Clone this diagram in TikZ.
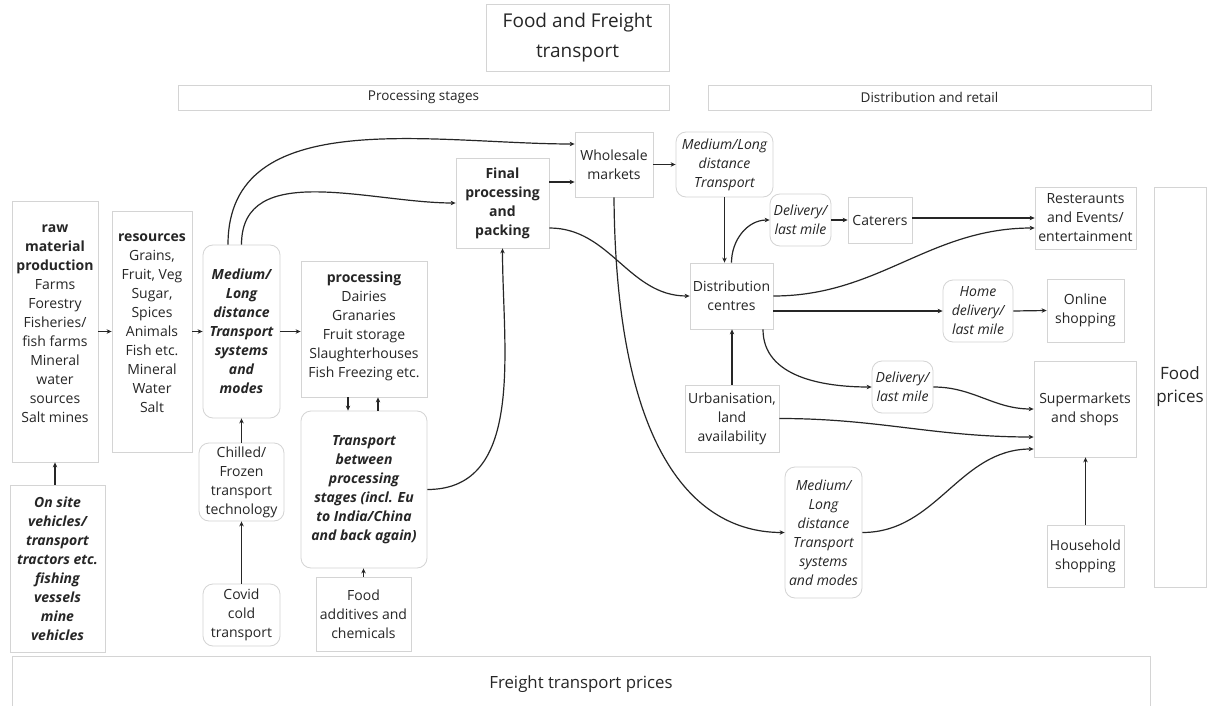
\documentclass[tikz,border=0pt]{standalone}
\usepackage{fontspec}
\setmainfont{Open Sans}
\usetikzlibrary{arrows.meta,calc}
\definecolor{boxline}{HTML}{D4D4D4}
\definecolor{ink}{HTML}{262626}
\tikzset{
  box/.style={draw=boxline, line width=0.8pt, align=center, inner sep=0pt, text=ink, font=\fontsize{14}{19}\selectfont},
  rbox/.style={box, rounded corners=10pt},
  conn/.style={draw=ink, line width=1.2pt, -{Stealth[length=5pt,width=4.5pt]}},
}
\begin{document}
\begin{tikzpicture}[x=1pt,y=1pt]
\useasboundingbox[fill=white] (0,0) rectangle (1208,-706);
% headers
\node[box, minimum width=183, minimum height=67, font=\fontsize{19}{30}\selectfont] (title) at (577.5,-37.5) {Food and Freight\\transport};
\node[box, minimum width=491, minimum height=25, font=\fontsize{13.5}{16}\selectfont] (prochead) at (423.5,-97.5) {Processing stages};
\node[box, minimum width=443, minimum height=25, font=\fontsize{13.5}{16}\selectfont] (disthead) at (929.5,-97.5) {Distribution and retail};
% left column
\node[box, minimum width=86, minimum height=261] (raw) at (55,-331.5) {\textbf{raw}\\\textbf{material}\\\textbf{production}\\Farms\\Forestry\\Fisheries/\\fish farms\\Mineral\\water\\sources\\Salt mines\\[-3pt]\mbox{}};
\node[box, minimum width=80, minimum height=241] (res) at (152,-331.5) {\textbf{resources}\\Grains,\\Fruit, Veg\\Sugar,\\Spices\\Animals\\Fish etc.\\Mineral\\Water\\Salt\\[-3pt]\mbox{}};
\node[rbox, minimum width=77, minimum height=173, font=\fontsize{14}{19}\selectfont\bfseries\itshape] (med1) at (241.5,-331.5) {Medium/\\Long\\distance\\Transport\\systems\\and\\modes};
\node[rbox, minimum width=85, minimum height=78] (chilled) at (241.5,-482) {Chilled/\\Frozen\\transport\\technology};
\node[rbox, minimum width=77, minimum height=62] (covid) at (241.5,-615) {Covid\\cold\\transport};
\node[box, minimum width=95, minimum height=167, font=\fontsize{14}{19}\selectfont\bfseries\itshape] (onsite) at (57.5,-568.5) {On site\\vehicles/\\transport\\tractors etc.\\fishing\\vessels\\mine\\vehicles};
% processing column
\node[box, minimum width=126, minimum height=136] (processing) at (364,-329) {\textbf{processing}\\Dairies\\Granaries\\Fruit storage\\Slaughterhouses\\Fish Freezing etc.\\[-11pt]\mbox{}};
\node[rbox, minimum width=126, minimum height=157, font=\fontsize{14}{19}\selectfont\bfseries\itshape] (tbetween) at (364,-489.5) {Transport\\between\\processing\\stages (incl. Eu\\ to India/China\\and back again)};
\node[box, minimum width=95, minimum height=74] (additives) at (363.5,-614) {Food\\additives and\\chemicals};
\node[box, minimum width=93, minimum height=90, font=\fontsize{14}{19}\selectfont\bfseries] (final) at (502.5,-203) {Final\\processing\\and\\packing};
\node[box, minimum width=78, minimum height=65] (wholesale) at (614,-164.5) {Wholesale\\markets};
% distribution
\node[rbox, minimum width=97, minimum height=65, font=\fontsize{14}{19}\selectfont\itshape] (medtop) at (724.5,-164.5) {Medium/Long\\distance\\Transport};
\node[rbox, minimum width=61, minimum height=52, font=\fontsize{14}{19}\selectfont\itshape] (deliv1) at (800.5,-220) {Delivery/\\last mile};
\node[box, minimum width=64, minimum height=46] (caterers) at (880,-220) {Caterers};
\node[box, minimum width=101, minimum height=62] (rest) at (1085.5,-218) {Resteraunts\\and Events/\\entertainment};
\node[box, minimum width=83, minimum height=66] (distc) at (731.5,-296) {Distribution\\centres};
\node[rbox, minimum width=70, minimum height=62, font=\fontsize{14}{19}\selectfont\itshape] (home) at (978,-311) {Home\\delivery/\\last mile};
\node[box, minimum width=77, minimum height=63] (online) at (1085.5,-310.5) {Online\\shopping};
\node[rbox, minimum width=61, minimum height=52, font=\fontsize{14}{19}\selectfont\itshape] (deliv2) at (902.5,-387) {Delivery/\\last mile};
\node[box, minimum width=94, minimum height=67] (urban) at (732,-418.5) {Urbanisation,\\land\\availability};
\node[box, minimum width=102, minimum height=96] (super) at (1085,-409) {Supermarkets\\and shops};
\node[rbox, minimum width=77, minimum height=131, font=\fontsize{14}{19}\selectfont\itshape] (medlow) at (823.5,-532.5) {Medium/\\Long\\distance\\Transport\\systems\\and modes};
\node[box, minimum width=77, minimum height=62] (household) at (1085.5,-556) {Household\\shopping};
\node[box, minimum width=52, minimum height=400, font=\fontsize{17}{23}\selectfont] (foodprices) at (1180,-387) {Food\\prices};
\node[box, minimum width=1138, minimum height=56, font=\fontsize{16.8}{20}\selectfont] (freight) at (581,-684) {Freight transport prices};
% connectors left
\draw[conn] (raw.east) -- (res.west);
\draw[conn] (res.east) -- (med1.west);
\draw[conn] (med1.east) -- (med1.east -| processing.west);
\draw[conn] (raw.south |- onsite.north) -- (raw.south);
\draw[conn] (chilled.north) -- (med1.south);
\draw[conn] (covid.north) -- (chilled.south);
\draw[conn] ([xshift=-13.5]med1.north) to[out=90,in=180] ([yshift=20.5]wholesale.west);
\draw[conn] (med1.north) to[out=90,in=180] (final.west);
\coordinate (fw) at ([yshift=21]final.east);
\draw[conn] (fw) -- (fw -| wholesale.west);
\draw[conn] ([yshift=-25]final.east) to[out=0,in=180] (distc.west);
\draw[conn] (wholesale.south) .. controls +(2,-263) and +(-85,0) .. (medlow.west);
\draw[conn] (wholesale.east) -- (medtop.west);
\draw[conn] (tbetween.east) to[out=0,in=270] (final.south);
\draw[conn] ([xshift=-16]processing.south) -- ([xshift=-16]tbetween.north);
\draw[conn] ([xshift=14]tbetween.north) -- ([xshift=14]processing.south);
\draw[conn] (additives.north) -- (additives.north |- tbetween.south);
% connectors right
\draw[conn] (medtop.south) -- (medtop.south |- distc.north);
\draw[conn] (distc.north) to[out=90,in=180] (deliv1.west);
\draw[conn] (deliv1.east) -- (caterers.west);
\draw[conn] ([yshift=2]caterers.east) -- ([yshift=2]caterers.east -| rest.west);
\draw[conn] (distc.east) to[out=0,in=180] ([yshift=-10]rest.west);
\draw[conn] (home.west -| distc.east) -- (home.west);
\draw[conn] (home.east) -- (online.west);
\draw[conn] ([xshift=31.5]distc.south) to[out=270,in=180] (deliv2.west);
\draw[conn] (deliv2.east) to[out=0,in=180] (super.west);
\draw[conn] (urban.east) to[out=0,in=180] ([yshift=-28]super.west);
\draw[conn] (medlow.east) to[out=0,in=180] ([yshift=-40]super.west);
\draw[conn] (household.north) -- (household.north |- super.south);
\draw[conn] (urban.north) -- (urban.north |- distc.south);
\end{tikzpicture}
\end{document}
